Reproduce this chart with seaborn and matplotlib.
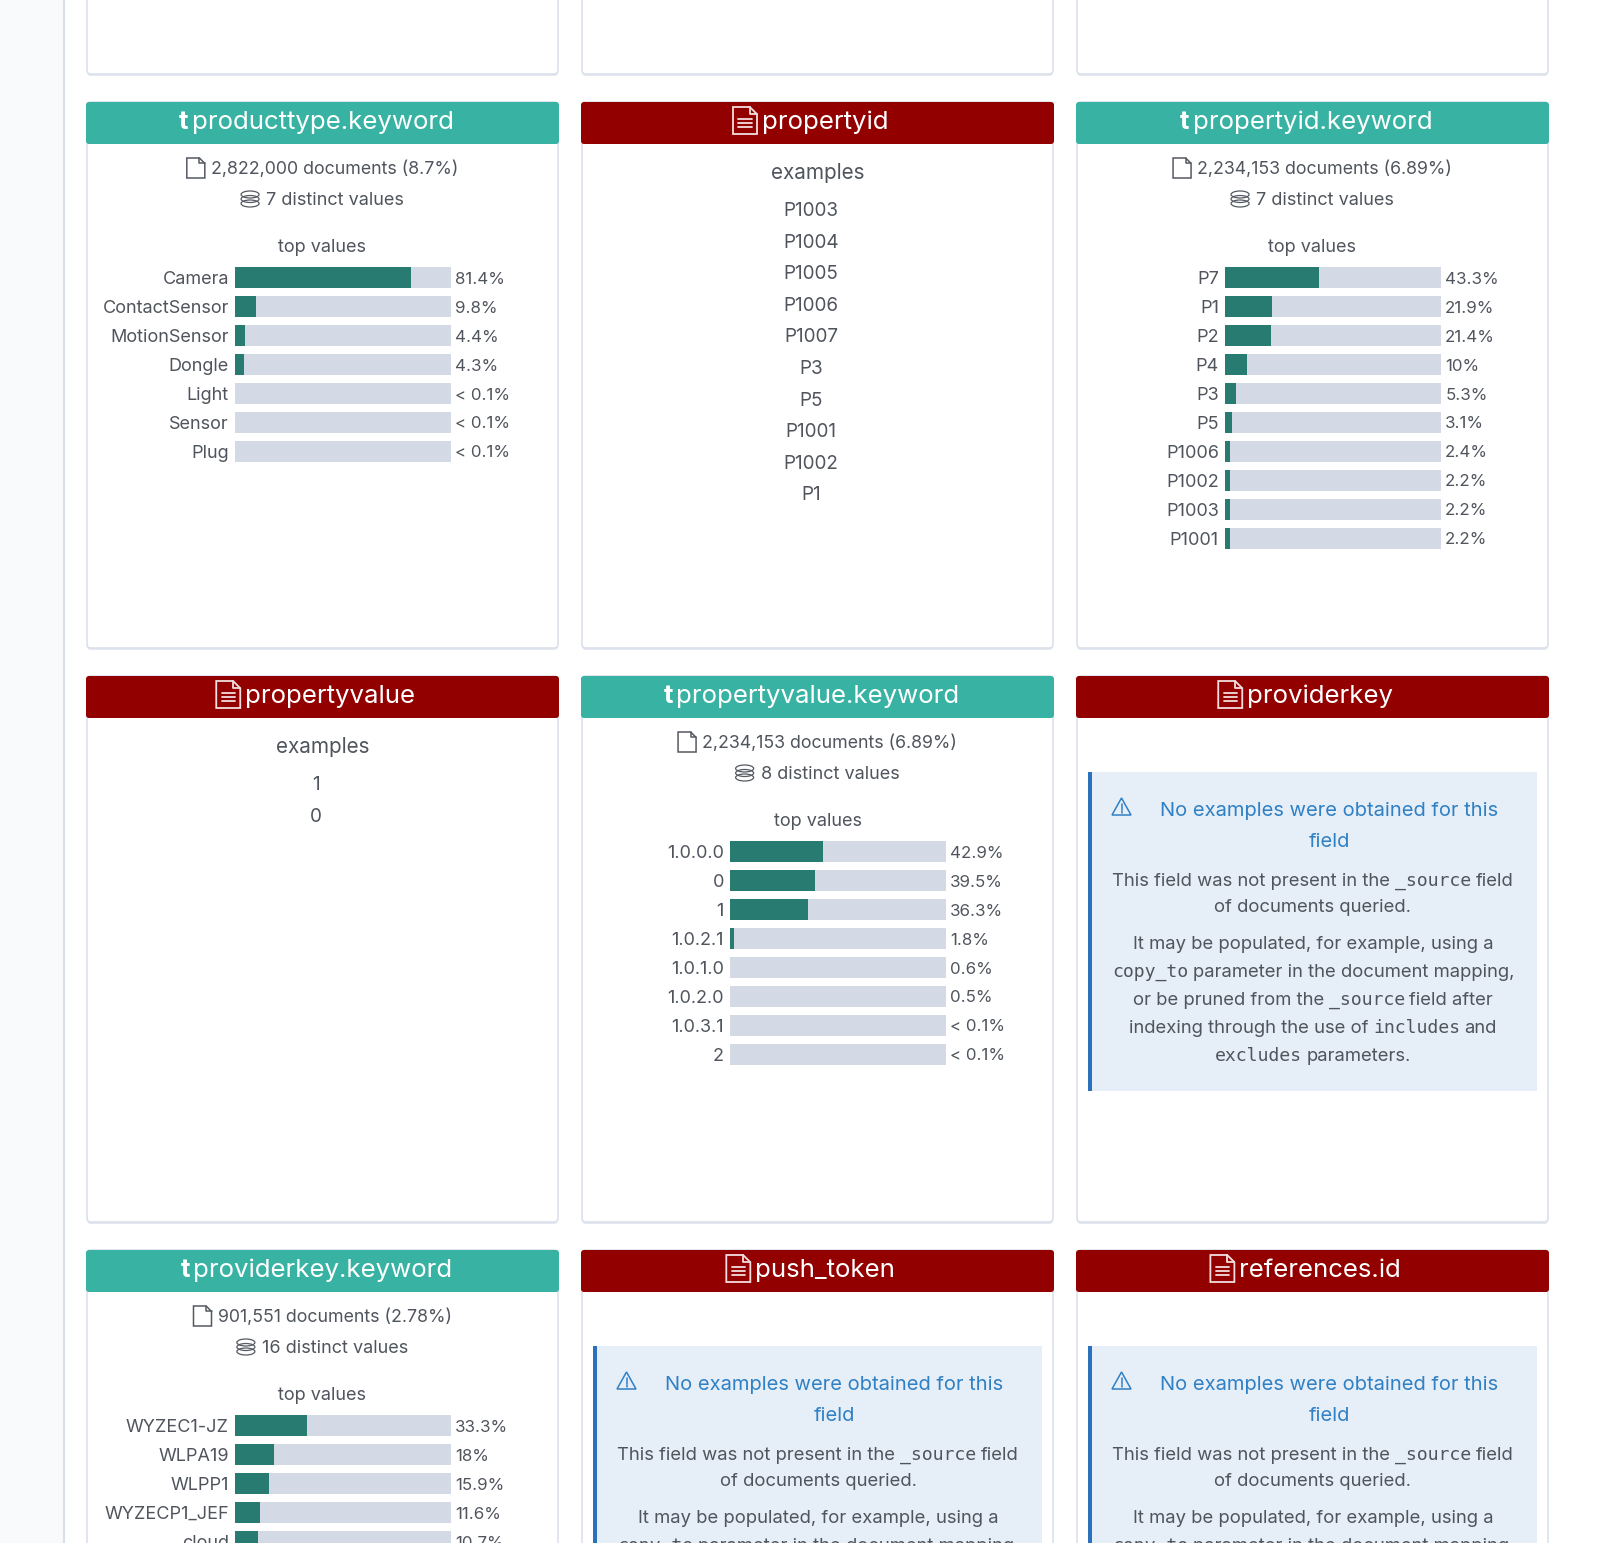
from matplotlib import pyplot as plt
from matplotlib.patches import FancyBboxPatch, Polygon, Rectangle, Ellipse
import seaborn as sns
import pandas as pd

W, H = 1600, 1543

TEAL = "#38b3a3"
RED = "#930000"
BAR_DARK = "#277b70"
TRACK = "#d3dae6"
TEXT = "#50555d"
BLUE = "#2f80c4"

# values, < 0.1 bars are kept as 0.05
product_types = ["Camera", "ContactSensor", "MotionSensor", "Dongle", "Light", "Sensor", "Plug"]
product_pcts = [81.4, 9.8, 4.4, 4.3, 0.05, 0.05, 0.05]

property_ids = ["P7", "P1", "P2", "P4", "P3", "P5", "P1006", "P1002", "P1003", "P1001"]
property_id_pcts = [43.3, 21.9, 21.4, 10, 5.3, 3.1, 2.4, 2.2, 2.2, 2.2]

property_values = ["1.0.0.0", "0", "1", "1.0.2.1", "1.0.1.0", "1.0.2.0", "1.0.3.1", "2"]
property_value_pcts = [42.9, 39.5, 36.3, 1.8, 0.6, 0.5, 0.05, 0.05]

provider_keys = ["WYZEC1-JZ", "WLPA19", "WLPP1", "WYZECP1_JEF", "cloud"]
provider_key_pcts = [33.3, 18, 15.9, 11.6, 10.7]

propertyid_examples = ["P1003", "P1004", "P1005", "P1006", "P1007", "P3", "P5", "P1001", "P1002", "P1"]
propertyvalue_examples = ["1", "0"]

COL_X = [86, 581, 1076]
ROW_Y = [102, 676, 1250]
CARD_W = 473
CARD_H = 547
ROW_PITCH = 28.9

sns.set_theme(style="white")
plt.rcParams["font.family"] = ["Inter", "DejaVu Sans"]

fig = plt.figure(figsize=(W / 100, H / 100), dpi=100, facecolor="white")
bg = fig.add_axes([0, 0, 1, 1])
bg.set_xlim(0, W)
bg.set_ylim(H, 0)
bg.axis("off")
renderer = fig.canvas.get_renderer()


def runs(parts, cx, y, color=TEXT, size=13, extra=0.0):
    # one centred line made of (text, mono) pieces, y is the baseline
    items = []
    total = extra
    for s, mono in parts:
        fam = ["DejaVu Sans Mono"] if mono else ["Inter", "DejaVu Sans"]
        sz = size * 0.98 if mono else size
        t = bg.text(0, y, s, family=fam, fontsize=sz, color=color, va="baseline", ha="left", zorder=3)
        w = t.get_window_extent(renderer).width
        items.append((t, w))
        total += w + 4.6
    total -= 4.6
    x = cx - total / 2
    left = x
    if extra:
        x += extra
    for t, w in items:
        t.set_x(x)
        x += w + 4.6
    return left


def doc_icon(x, y, w=18, h=20, color="#555a62", lw=1.1, lines=False):
    fold = w * 0.3
    bg.add_patch(Polygon([(x, y), (x + w - fold, y), (x + w, y + fold), (x + w, y + h), (x, y + h)],
                         closed=True, fill=False, edgecolor=color, lw=lw, zorder=3))
    bg.plot([x + w - fold, x + w - fold, x + w], [y, y + fold, y + fold], color=color, lw=lw, zorder=3)
    if lines:
        for k in (0.45, 0.6, 0.75):
            bg.plot([x + w * 0.22, x + w * 0.78], [y + h * k, y + h * k], color=color, lw=lw, zorder=3)


def db_icon(x, y, color="#555a62"):
    for dy in (0, 4.5, 9):
        bg.add_patch(Ellipse((x + 9, y + 3.5 + dy), 18, 7, fill=False, edgecolor=color, lw=0.9, zorder=3))


def warn_icon(x, y, color=BLUE):
    bg.add_patch(Polygon([(x, y + 17), (x + 9.5, y), (x + 19, y + 17)], closed=True, fill=False,
                         edgecolor=color, lw=1.1, zorder=3))
    bg.plot([x + 9.5, x + 9.5], [y + 6, y + 11.5], color=color, lw=1.1, zorder=3)
    bg.plot([x + 9.5, x + 9.5], [y + 13, y + 14.5], color=color, lw=1.1, zorder=3)


def card(x, y, h=CARD_H, w=CARD_W):
    bg.add_patch(FancyBboxPatch((x + 1, y + 2), w - 2, h - 1, boxstyle="round,pad=0,rounding_size=4",
                                fc="#e4e8f0", ec="none", zorder=1))
    bg.add_patch(FancyBboxPatch((x + 1, y), w - 2, h - 1, boxstyle="round,pad=0,rounding_size=4",
                                fc="white", ec="#dbe0ea", lw=1.2, zorder=1))


def header(x, y, name, colour, text_field):
    bg.add_patch(FancyBboxPatch((x, y), CARD_W, 42, boxstyle="round,pad=0,rounding_size=3",
                                fc=colour, ec="none", zorder=2))
    cx = x + CARD_W / 2
    t = bg.text(0, y + 27, name, fontsize=18.6, color="white", va="baseline", ha="left", zorder=3)
    tw = t.get_window_extent(renderer).width
    if text_field:
        start = cx - 6 - (tw + 13) / 2
        bg.text(start, y + 27, "t", fontsize=18.6, fontweight="bold", color="white", va="baseline", ha="left", zorder=3)
        t.set_x(start + 13)
    else:
        start = cx - 7 - (tw + 28.5) / 2
        doc_icon(start, y + 5, w=24, h=27, color="#f2dede", lw=1.3, lines=True)
        t.set_x(start + 28.5)


def stats(x, y, docs, distinct):
    cx = x + CARD_W / 2
    left = runs([(docs, False)], cx, y + 72, extra=24, size=12.8)
    doc_icon(left, y + 56)
    left = runs([(distinct, False)], cx, y + 103, extra=25)
    db_icon(left, y + 89)
    runs([("top values", False)], cx, y + 150.5)


def bars(x, y, labels, pcts):
    n = len(labels)
    top = y + 161.5
    height = n * ROW_PITCH
    ax = fig.add_axes([(x + 149) / W, 1 - (top + height) / H, 216 / W, height / H])
    ax.patch.set_alpha(0)
    df = pd.DataFrame({"value": labels, "pct": pcts, "full": [100] * n})
    # the page leaves out the fill for anything under one percent
    df["fill"] = df["pct"].where(df["pct"] >= 1, 0)
    sns.barplot(data=df, x="full", y="value", orient="h", color=TRACK, saturation=1, width=0.73, linewidth=0, ax=ax)
    sns.barplot(data=df, x="fill", y="value", orient="h", color=BAR_DARK, saturation=1, width=0.73, linewidth=0, ax=ax)
    ax.set_xlim(0, 100)
    ax.set_xlabel("")
    ax.set_ylabel("")
    ax.set_xticks([])
    ax.tick_params(axis="y", length=0, pad=4.4, labelsize=13, labelcolor=TEXT)
    sns.despine(ax=ax, left=True, bottom=True)
    for i, v in enumerate(pcts):
        lab = "< 0.1%" if v < 0.1 else f"{v:g}%"
        ax.annotate(lab, (100, i), xytext=(3, 0), textcoords="offset points", fontsize=12.2,
                    color=TEXT, va="center_baseline", ha="left", annotation_clip=False)


def examples(x, y, items):
    cx = x + CARD_W / 2
    runs([("examples", False)], cx, y + 77, size=14.9)
    for i, s in enumerate(items):
        runs([(s, False)], cx - 6.5, y + 114 + i * 31.6, size=13.6)


def no_examples(x, y):
    top = y + 96
    bg.add_patch(Rectangle((x + 12, top), 449, 319, fc="#e6eef7", ec="none", zorder=1.5))
    bg.add_patch(Rectangle((x + 12, top), 3.5, 319, fc="#2a72bd", ec="none", zorder=1.6))
    warn_icon(x + 36, top + 26)
    runs([("No examples were obtained for this", False)], x + 253, y + 140, color=BLUE, size=14.5)
    runs([("field", False)], x + 253, y + 171, color=BLUE, size=14.5)
    cx = x + 237
    runs([("This field was not present in the", False), ("_source", True), ("field", False)], cx, y + 210, size=13.3)
    runs([("of documents queried.", False)], cx, y + 236, size=13.3)
    runs([("It may be populated, for example, using a", False)], cx, y + 273, size=13.3)
    runs([("copy_to", True), ("parameter in the document mapping,", False)], cx, y + 301, size=13.3)
    runs([("or be pruned from the", False), ("_source", True), ("field after", False)], cx, y + 329, size=13.3)
    runs([("indexing through the use of", False), ("includes", True), ("and", False)], cx, y + 357, size=13.3)
    runs([("excludes", True), ("parameters.", False)], cx, y + 385, size=13.3)


# page chrome
bg.add_patch(Rectangle((0, 0), 64, H, fc="#f9fafc", ec="none", zorder=0))
bg.plot([64, 64], [0, H], color="#d9dfea", lw=1.5, zorder=0.5)

for cx in COL_X:
    card(cx, -300, h=375)

for ry in ROW_Y:
    for cx in COL_X:
        card(cx, ry)

header(COL_X[0], ROW_Y[0], "producttype.keyword", TEAL, True)
stats(COL_X[0], ROW_Y[0], "2,822,000 documents (8.7%)", "7 distinct values")
bars(COL_X[0], ROW_Y[0], product_types, product_pcts)

header(COL_X[1], ROW_Y[0], "propertyid", RED, False)
examples(COL_X[1], ROW_Y[0], propertyid_examples)

header(COL_X[2], ROW_Y[0], "propertyid.keyword", TEAL, True)
stats(COL_X[2], ROW_Y[0], "2,234,153 documents (6.89%)", "7 distinct values")
bars(COL_X[2], ROW_Y[0], property_ids, property_id_pcts)

header(COL_X[0], ROW_Y[1], "propertyvalue", RED, False)
examples(COL_X[0], ROW_Y[1], propertyvalue_examples)

header(COL_X[1], ROW_Y[1], "propertyvalue.keyword", TEAL, True)
stats(COL_X[1], ROW_Y[1], "2,234,153 documents (6.89%)", "8 distinct values")
bars(COL_X[1], ROW_Y[1], property_values, property_value_pcts)

header(COL_X[2], ROW_Y[1], "providerkey", RED, False)
no_examples(COL_X[2], ROW_Y[1])

header(COL_X[0], ROW_Y[2], "providerkey.keyword", TEAL, True)
stats(COL_X[0], ROW_Y[2], "901,551 documents (2.78%)", "16 distinct values")
bars(COL_X[0], ROW_Y[2], provider_keys, provider_key_pcts)

header(COL_X[1], ROW_Y[2], "push_token", RED, False)
no_examples(COL_X[1], ROW_Y[2])

header(COL_X[2], ROW_Y[2], "references.id", RED, False)
no_examples(COL_X[2], ROW_Y[2])

fig.savefig("out.png", dpi=100)
